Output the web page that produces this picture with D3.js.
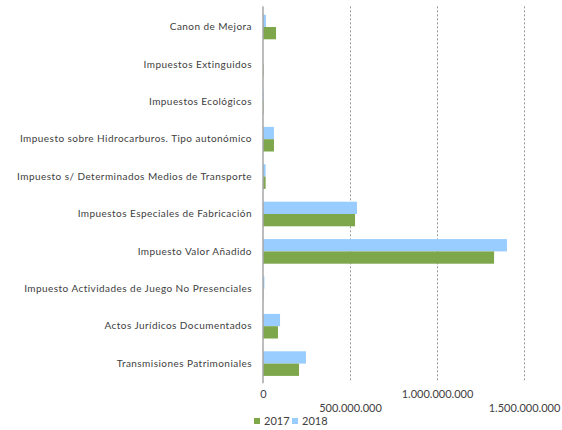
<!DOCTYPE html>
<html>
<head>
<meta charset="utf-8">
<script src="https://cdn.jsdelivr.net/npm/d3@7"></script>
<style>
  body { margin: 0; background: #fff; }
  svg { font-family: Lato, "Open Sans", sans-serif; }
</style>
</head>
<body>
<svg id="chart"></svg>
<script>
let categories = [
    'Canon de Mejora',
    'Impuestos Extinguidos',
    'Impuestos Ecológicos',
    'Impuesto sobre Hidrocarburos. Tipo autonómico',
    'Impuesto s/ Determinados Medios de Transporte',
    'Impuestos Especiales de Fabricación',
    'Impuesto Valor Añadido',
    'Impuesto Actividades de Juego No Presenciales',
    'Actos Jurídicos Documentados',
    'Transmisiones Patrimoniales'
]
let values2017 = [75e6, 3e6, 3e6, 63e6, 15e6, 529e6, 1328e6, 2e6, 86e6, 207e6]
let values2018 = [17e6, 0.5e6, 3e6, 63e6, 15e6, 540e6, 1402e6, 8e6, 98e6, 247e6]
let tickValues = [0, 500000000, 1000000000, 1500000000]
let seriesNames = ['2018', '2017']
let colors = { '2017': '#7ea64a', '2018': '#99ccff' }

let width = 562
let height = 430
let plotLeft = 263
let plotRight = 524
let plotTop = 8.3
let plotBottom = 382.3

let svg = d3.select('#chart')
    .attr('width', width)
    .attr('height', height)

let rows = categories.map((c, i) => {
    return { name: c, '2017': values2017[i], '2018': values2018[i] }
})

let xScale = d3.scaleLinear()
    .domain([0, 1500000000])
    .range([plotLeft, plotRight])

let yScale = d3.scaleBand()
    .domain(categories)
    .range([plotTop, plotBottom])

let innerScale = d3.scaleBand()
    .domain(seriesNames)
    .range([0, yScale.bandwidth()])
    .paddingOuter(0.52)

let esFormat = d3.formatLocale({ decimal: ',', thousands: '.', grouping: [3], currency: ['', '€'] }).format(',')

// grid lines
svg.append('g')
    .selectAll('line')
    .data(tickValues.slice(1))
    .enter()
    .append('line')
    .attr('x1', (d) => Math.round(xScale(d)) + 0.5)
    .attr('x2', (d) => Math.round(xScale(d)) + 0.5)
    .attr('y1', plotTop - 2)
    .attr('y2', plotBottom - 1)
    .attr('stroke', '#9a9a9a')
    .attr('stroke-dasharray', '2,2')

// bars
let groups = svg.append('g')
    .selectAll('g')
    .data(rows)
    .enter()
    .append('g')
    .attr('transform', (d) => 'translate(0,' + yScale(d.name) + ')')

groups.selectAll('rect')
    .data((d) => seriesNames.map((s) => ({ key: s, value: d[s] })))
    .enter()
    .append('rect')
    .attr('x', xScale(0))
    .attr('y', (d) => innerScale(d.key))
    .attr('width', (d) => Math.max(xScale(d.value) - xScale(0), 0))
    .attr('height', innerScale.bandwidth())
    .attr('fill', (d) => colors[d.key])

// y axis
let yAxis = d3.axisLeft(yScale).tickSize(0).tickPadding(11)
let yG = svg.append('g')
    .attr('transform', 'translate(' + plotLeft + ',0)')
    .call(yAxis)
yG.select('.domain').remove()
yG.selectAll('text')
    .attr('font-size', '10px')
    .attr('font-family', 'Lato, sans-serif')
    .attr('letter-spacing', '0.45px')
    .attr('fill', '#404040')

svg.append('line')
    .attr('x1', plotLeft)
    .attr('x2', plotLeft)
    .attr('y1', plotTop - 2)
    .attr('y2', plotBottom + 1)
    .attr('stroke', '#a6a6a6')
    .attr('stroke-width', 1.5)

// x axis with staggered labels
let xAxis = d3.axisBottom(xScale)
    .tickValues(tickValues)
    .tickFormat(esFormat)
    .tickSize(0)
    .tickPadding(0)
let xG = svg.append('g')
    .attr('transform', 'translate(0,' + (plotBottom + 8) + ')')
    .call(xAxis)
xG.select('.domain').remove()
xG.selectAll('text')
    .attr('font-size', '11px')
    .attr('font-family', 'Lato, sans-serif')
    .attr('fill', '#404040')
    .attr('y', (d, i) => i % 2 === 0 ? 0 : 14)

// legend
let legend = svg.append('g')
    .attr('transform', 'translate(254,416)')
let legendItems = ['2017', '2018']
let item = legend.selectAll('g')
    .data(legendItems)
    .enter()
    .append('g')
    .attr('transform', (d, i) => 'translate(' + (i * 38) + ',0)')
item.append('rect')
    .attr('width', 6)
    .attr('height', 6)
    .attr('y', 2)
    .attr('fill', (d) => colors[d])
item.append('text')
    .attr('x', 10)
    .attr('y', 9)
    .attr('font-size', '11px')
    .attr('fill', '#404040')
    .text((d) => d)
</script>
</body>
</html>
